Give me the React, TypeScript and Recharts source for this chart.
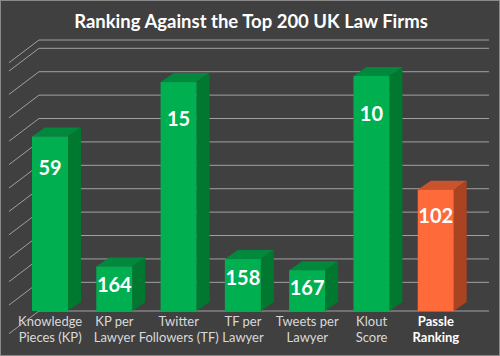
import React from 'react';
import { BarChart, Bar, XAxis, YAxis, CartesianGrid, LabelList } from 'recharts';

// categories use \n where the axis label wraps
const categories = [
  'Knowledge\nPieces (KP)',
  'KP per\nLawyer',
  'Twitter\nFollowers (TF)',
  'TF per\nLawyer',
  'Tweets per\nLawyer',
  'Klout\nScore',
  'Passle\nRanking',
];
const ranks = [59, 164, 15, 158, 167, 10, 102];
const FIRM_COUNT = 200;
const wallTicks = [0, 20, 40, 60, 80, 100, 120, 140, 160, 180, 200];

// bar height shows how far from the bottom of the 200 a rank is
const data = categories.map((name, i) => ({ name, rank: ranks[i], score: FIRM_COUNT - ranks[i] }));

const GREEN = { front: '#00B050', top: '#00883C', side: '#007830' };
const ORANGE = { front: '#FF6A3A', top: '#C9532C', side: '#A94322' };
const BG = '#404040';
const FONT = 'Lato, "Open Sans", sans-serif';

// 3d offsets
const DX = 13;
const DY = 9;
const WALL_SHIFT = 21;
const FLOOR_DX = 30;
const FLOOR_DY = 22.7;

const isHighlight = (name: string) => name === categories[categories.length - 1];

const Bar3D = (props: any) => {
  const { x, y, width, height, payload } = props;
  const c = isHighlight(payload.name) ? ORANGE : GREEN;
  return (
    <g>
      <polygon
        points={`${x},${y} ${x + DX},${y - DY} ${x + width + DX},${y - DY} ${x + width},${y}`}
        fill={c.top}
      />
      <polygon
        points={`${x + width},${y} ${x + width + DX},${y - DY} ${x + width + DX},${y + height - DY} ${x + width},${y + height}`}
        fill={c.side}
      />
      <rect x={x} y={y} width={width} height={height} fill={c.front} />
    </g>
  );
};

const RankLabel = (props: any) => {
  const { x, y, width, height, value } = props;
  return (
    <text
      x={x + width / 2}
      y={y + 14 + height * 0.1}
      dy="0.36em"
      textAnchor="middle"
      fill="#FFFFFF"
      fontFamily={FONT}
      fontWeight={700}
      fontSize={20}
    >
      {value}
    </text>
  );
};

const CategoryTick = (props: any) => {
  const { x, y, payload } = props;
  const strong = isHighlight(payload.value);
  const lines = String(payload.value).split('\n');
  return (
    <text
      x={x}
      y={y}
      textAnchor="middle"
      fill={strong ? '#FFFFFF' : '#D9D9D9'}
      fontFamily={FONT}
      fontWeight={strong ? 700 : 400}
      fontSize={13}
    >
      {lines.map((line, i) => (
        <tspan key={i} x={x} dy={i === 0 ? 7 : 16}>
          {line}
        </tspan>
      ))}
    </text>
  );
};

// back wall line plus the diagonal running down to the front
const WallLine = (props: any) => {
  const { x1, x2, y1, index } = props;
  const left = x1 + WALL_SHIFT;
  return (
    <g key={`wall-${index}`}>
      <line x1={left} y1={y1} x2={x2 + WALL_SHIFT} y2={y1} stroke="#A0A0A0" strokeWidth={1} />
      <line x1={left} y1={y1} x2={left - FLOOR_DX} y2={y1 + FLOOR_DY} stroke="#A0A0A0" strokeWidth={1} />
    </g>
  );
};

export default function App() {
  return (
    <div
      style={{
        position: 'fixed',
        left: 0,
        top: 0,
        width: 500,
        height: 356,
        background: BG,
        boxSizing: 'border-box',
        border: '1px solid #8A8A8A',
        overflow: 'hidden',
      }}
    >
      <div
        style={{
          position: 'absolute',
          left: 0,
          top: 9,
          width: 500,
          textAlign: 'center',
          color: '#FFFFFF',
          fontFamily: FONT,
          fontWeight: 700,
          fontSize: 18.5,
        }}
      >
        Ranking Against the Top 200 UK Law Firms
      </div>
      <div style={{ position: 'absolute', left: -1, top: -1 }}>
        <BarChart
          width={500}
          height={356}
          data={data}
          margin={{ top: 40, right: 32, left: 18, bottom: 5 }}
          barSize={36}
        >
          <CartesianGrid yAxisId="wall" vertical={false} horizontal={WallLine} />
          <XAxis
            dataKey="name"
            height={40}
            axisLine={false}
            tickLine={false}
            interval={0}
            tick={<CategoryTick />}
          />
          <YAxis yAxisId="front" hide type="number" domain={[0, 219]} />
          <YAxis
            yAxisId="wall"
            hide
            type="number"
            domain={[-24.5, 207.1]}
            ticks={wallTicks}
            allowDataOverflow
          />
          <Bar yAxisId="front" dataKey="score" shape={<Bar3D />} isAnimationActive={false}>
            <LabelList dataKey="rank" content={<RankLabel />} />
          </Bar>
        </BarChart>
      </div>
    </div>
  );
}
